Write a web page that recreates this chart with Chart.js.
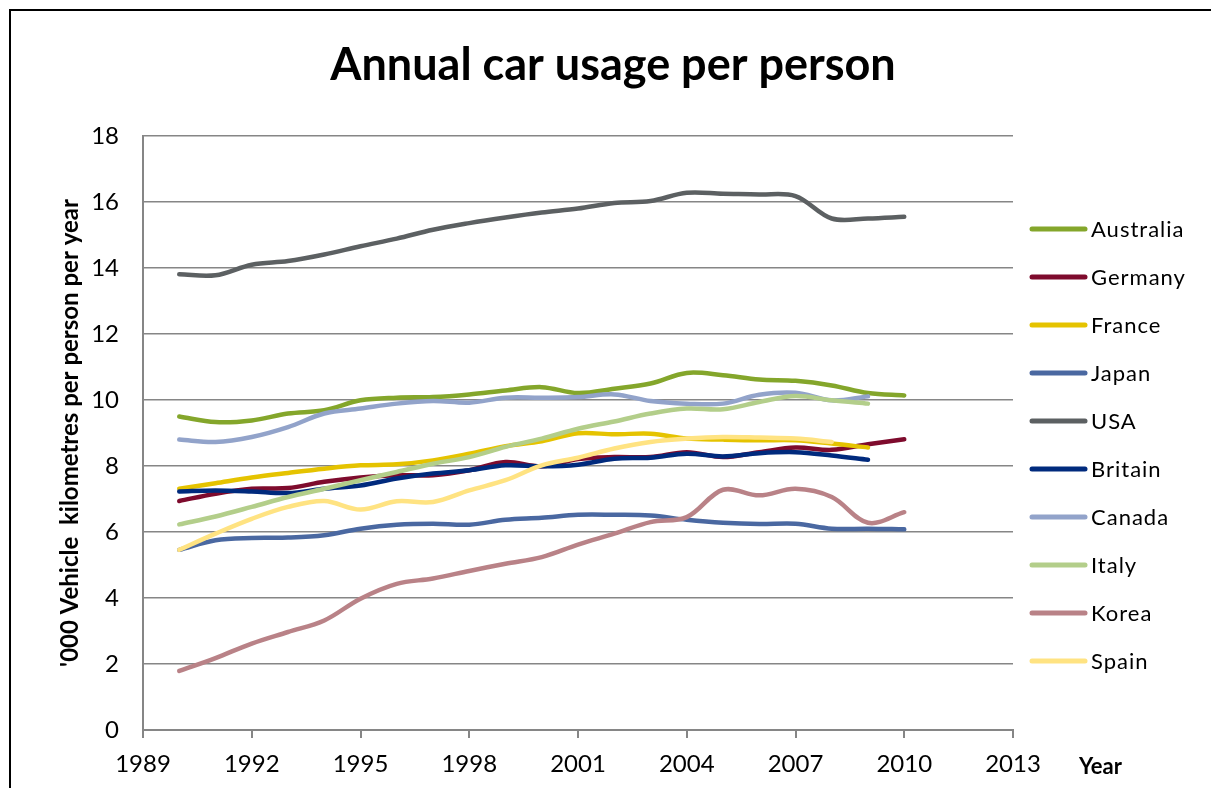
<!DOCTYPE html>
<html>
<head>
<meta charset="utf-8">
<title>Annual car usage per person</title>
<script src="https://cdn.jsdelivr.net/npm/chart.js@4.4.1/dist/chart.umd.min.js"></script>
<style>
  html, body { margin: 0; padding: 0; background: #fff; }
  #wrap { width: 1211px; height: 788px; position: relative; }
</style>
</head>
<body>
<div id="wrap"><canvas id="usage"></canvas></div>
<script>
// '000 vehicle km per person per year, 1990 onwards
const years = [1990, 1991, 1992, 1993, 1994, 1995, 1996, 1997, 1998, 1999, 2000,
               2001, 2002, 2003, 2004, 2005, 2006, 2007, 2008, 2009, 2010];

const australia = [9.50, 9.33, 9.38, 9.59, 9.69, 9.99, 10.07, 10.09, 10.17, 10.29, 10.39,
                   10.21, 10.34, 10.50, 10.82, 10.75, 10.62, 10.58, 10.44, 10.21, 10.14];
const germany   = [6.94, 7.16, 7.31, 7.33, 7.52, 7.65, 7.72, 7.72, 7.87, 8.12, 7.99,
                   8.21, 8.27, 8.27, 8.42, 8.27, 8.42, 8.56, 8.49, 8.66, 8.81];
const france    = [7.31, 7.48, 7.65, 7.79, 7.92, 8.02, 8.05, 8.17, 8.37, 8.60, 8.75,
                   8.99, 8.96, 8.98, 8.83, 8.80, 8.78, 8.78, 8.68, 8.56];
const japan     = [5.46, 5.75, 5.82, 5.83, 5.90, 6.10, 6.22, 6.25, 6.22, 6.37, 6.43,
                   6.52, 6.52, 6.50, 6.37, 6.28, 6.24, 6.25, 6.10, 6.10, 6.08];
const usa       = [13.81, 13.78, 14.10, 14.21, 14.41, 14.66, 14.89, 15.16, 15.36, 15.53, 15.68,
                   15.80, 15.97, 16.03, 16.28, 16.25, 16.23, 16.18, 15.50, 15.50, 15.55];
const britain   = [7.23, 7.26, 7.23, 7.18, 7.31, 7.41, 7.62, 7.77, 7.87, 8.02, 7.99,
                   8.04, 8.22, 8.25, 8.37, 8.29, 8.39, 8.42, 8.32, 8.19];
const canada    = [8.80, 8.73, 8.88, 9.18, 9.59, 9.74, 9.89, 9.97, 9.92, 10.07, 10.07,
                   10.09, 10.17, 9.97, 9.89, 9.89, 10.16, 10.22, 9.99, 10.11];
const italy     = [6.23, 6.47, 6.76, 7.06, 7.31, 7.57, 7.82, 8.07, 8.27, 8.58, 8.83,
                   9.13, 9.35, 9.59, 9.74, 9.72, 9.94, 10.12, 9.99, 9.89];
const korea     = [1.79, 2.18, 2.62, 2.97, 3.32, 3.98, 4.43, 4.59, 4.82, 5.04, 5.24,
                   5.62, 5.95, 6.30, 6.45, 7.28, 7.11, 7.31, 7.06, 6.28, 6.60];
const spain     = [5.46, 5.95, 6.40, 6.76, 6.94, 6.68, 6.93, 6.91, 7.26, 7.57, 8.02,
                   8.25, 8.53, 8.73, 8.83, 8.88, 8.86, 8.83, 8.73];

const countries = ["Australia", "Germany", "France", "Japan", "USA",
                   "Britain", "Canada", "Italy", "Korea", "Spain"];
const seriesValues = [australia, germany, france, japan, usa, britain, canada, italy, korea, spain];
const colours = ["#84a62b", "#7e0b2d", "#e5c300", "#4a68a1", "#5c6062",
                 "#002a7d", "#92a3ca", "#b3ce8a", "#b98287", "#ffe382"];

const xTicks = { min: 1989, max: 2013, step: 3 };
const yTicks = { min: 0, max: 18, step: 2 };

const chartTitle = "Annual car usage per person";
const yTitle = "'000 Vehicle  kilometres per person per year";
const xTitle = "Year";

const GRID = "#868686";
const FONT = "Lato, 'Open Sans', sans-serif";

// later series sit on top of earlier ones
const datasets = countries.map((name, i) => ({
  label: name,
  data: seriesValues[i].map((v, j) => ({ x: years[j], y: v })),
  borderColor: colours[i],
  backgroundColor: colours[i],
  borderWidth: 4.5,
  borderCapStyle: "round",
  borderJoinStyle: "round",
  pointRadius: 0,
  pointHoverRadius: 0,
  tension: 0.35,
  fill: false,
  order: countries.length - i,
}));

// title, axis titles, legend and outer frame
const decorations = {
  id: "decorations",
  beforeDraw(chart) {
    const ctx = chart.ctx;
    ctx.save();
    ctx.fillStyle = "#fff";
    ctx.fillRect(0, 0, chart.width, chart.height);
    ctx.restore();
  },
  afterDraw(chart) {
    const ctx = chart.ctx;
    const area = chart.chartArea;
    ctx.save();

    // chart title
    ctx.fillStyle = "#000";
    ctx.textAlign = "center";
    ctx.textBaseline = "alphabetic";
    ctx.font = "bold 45px " + FONT;
    ctx.fillText(chartTitle, 613, 80);

    // y axis title, centred on the plot area
    ctx.save();
    ctx.translate(70, (area.top + area.bottom) / 2);
    ctx.rotate(-Math.PI / 2);
    ctx.font = "bold 24px " + FONT;
    ctx.textBaseline = "middle";
    ctx.fillText(yTitle, 0, 0);
    ctx.restore();

    // x axis title
    ctx.font = "bold 22px " + FONT;
    ctx.textAlign = "left";
    ctx.textBaseline = "middle";
    ctx.fillText(xTitle, 1079, 767);

    // legend
    ctx.font = "22px " + FONT;
    ctx.letterSpacing = "1px";
    chart.data.datasets.forEach((ds, i) => {
      const y = 229 + i * 48;
      ctx.strokeStyle = ds.borderColor;
      ctx.lineWidth = 5;
      ctx.lineCap = "round";
      ctx.beginPath();
      ctx.moveTo(1032, y);
      ctx.lineTo(1085, y);
      ctx.stroke();
      ctx.fillStyle = "#000";
      ctx.fillText(ds.label, 1091, y + 1);
    });
    ctx.letterSpacing = "0px";

    // outer frame
    ctx.strokeStyle = "#000";
    ctx.lineWidth = 2;
    ctx.strokeRect(10, 10, 1240, 800);
    ctx.restore();
  }
};

new Chart(document.getElementById("usage"), {
  type: "line",
  data: { datasets },
  options: {
    responsive: true,
    maintainAspectRatio: false,
    animation: false,
    events: [],
    layout: { padding: { top: 136, right: 198, left: 0, bottom: 0 } },
    plugins: {
      legend: { display: false },
      title: { display: false },
      tooltip: { enabled: false },
    },
    scales: {
      x: {
        type: "linear",
        min: xTicks.min,
        max: xTicks.max,
        afterFit(scale) { scale.height = 58; },
        ticks: {
          stepSize: xTicks.step,
          padding: 12,
          color: "#000",
          font: { family: FONT, size: 24 },
          callback: (v) => String(v),
        },
        grid: {
          drawOnChartArea: false,
          drawTicks: true,
          tickLength: 8,
          color: GRID,
          lineWidth: 2,
        },
        border: { display: true, color: GRID, width: 2 },
      },
      y: {
        min: yTicks.min,
        max: yTicks.max,
        afterFit(scale) { scale.width = 143; },
        ticks: {
          stepSize: yTicks.step,
          padding: 24,
          color: "#000",
          font: { family: FONT, size: 24 },
        },
        grid: {
          drawTicks: false,
          color: GRID,
          lineWidth: 1.6,
        },
        border: { display: true, color: GRID, width: 2 },
      },
    },
  },
  plugins: [decorations],
});
</script>
</body>
</html>
